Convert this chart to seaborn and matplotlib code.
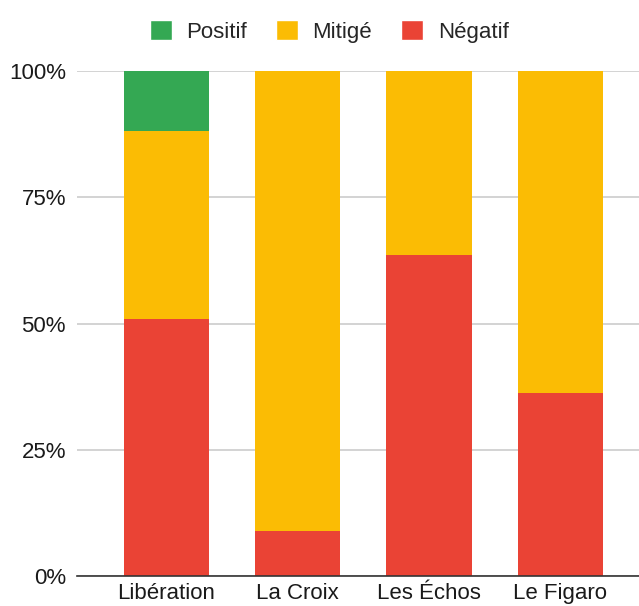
import pandas as pd
import seaborn as sns
import matplotlib.pyplot as plt
from matplotlib.patches import Patch

# Données (en %)
journaux = ["Libération", "La Croix", "Les Échos", "Le Figaro"]
negatif = [50.8, 9.0, 63.6, 36.2]
mitige = [37.3, 91.0, 36.4, 63.8]
positif = [11.9, 0.0, 0.0, 0.0]

couleurs = {"Positif": "#34A853", "Mitigé": "#FBBC04", "Négatif": "#EA4335"}

df = pd.DataFrame({"journal": journaux, "negatif": negatif, "mitige": mitige, "positif": positif})
df["cum_mitige"] = df["negatif"] + df["mitige"]
df["cum_positif"] = df["cum_mitige"] + df["positif"]

sns.set_style("white")
plt.rcParams['font.family'] = ['Liberation Sans', 'DejaVu Sans']

fig = plt.figure(figsize=(6.39, 6.06), dpi=100)
ax = fig.add_axes([0.1205, 0.0495, 0.8795, 0.8333])

# Barres empilées : on dessine les cumuls du haut vers le bas
opts = dict(saturation=1, width=0.65, ax=ax, linewidth=0)
sns.barplot(data=df, x="journal", y="cum_positif", color=couleurs["Positif"], zorder=2, **opts)
sns.barplot(data=df, x="journal", y="cum_mitige", color=couleurs["Mitigé"], zorder=3, **opts)
sns.barplot(data=df, x="journal", y="negatif", color=couleurs["Négatif"], zorder=4, **opts)

ax.set_ylim(0, 100)
ax.set_xlim(-0.68, 3.6)
ax.set_yticks([0, 25, 50, 75, 100])
ax.set_yticklabels(["0%", "25%", "50%", "75%", "100%"])
ax.yaxis.grid(True, color="#cccccc", linewidth=1.2, zorder=0)
ax.set_axisbelow(True)
for s in ["top", "right", "left"]:
    ax.spines[s].set_visible(False)
ax.spines["bottom"].set_color("#333333")
ax.spines["bottom"].set_linewidth(1.2)
ax.spines["bottom"].set_zorder(5)
ax.tick_params(axis="both", length=0, labelsize=16, colors="#1a1a1a")
ax.tick_params(axis="y", pad=8)
ax.tick_params(axis="x", pad=5)
ax.set_xlabel("")
ax.set_ylabel("")

handles = [Patch(facecolor=couleurs[k], label=k) for k in ["Positif", "Mitigé", "Négatif"]]
fig.legend(handles=handles, loc="upper center", bbox_to_anchor=(0.515, 1.0), ncol=3,
           frameon=False, fontsize=16, handlelength=1.0, handleheight=1.0, handletextpad=0.65, columnspacing=1.3)

plt.savefig("out.png", dpi=100)
